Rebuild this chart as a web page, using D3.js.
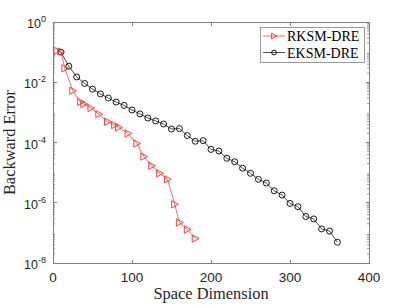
<!DOCTYPE html>
<html><head><meta charset="utf-8">
<script src="https://cdn.jsdelivr.net/npm/d3@7"></script>
<style>
html,body{margin:0;padding:0;background:#fff;}
svg{display:block;}
</style>
</head><body>
<svg id="chart" width="407" height="305"></svg>
<script>
// ---- data ----
const seriesNames = ["RKSM-DRE", "EKSM-DRE"];
const rksmX = [5, 10, 15, 25, 35, 39, 48, 58, 69, 78, 83, 95, 106, 115, 125, 135, 145, 154, 160, 170, 180];
const rksmY = [1.1e-1, 1.05e-1, 2.9e-2, 5.2e-3, 2.2e-3, 1.9e-3, 1.4e-3, 8.7e-4, 4.9e-4, 3.8e-4, 3.2e-4, 2.0e-4, 9.3e-5, 3.4e-5, 1.7e-5, 9.5e-6, 6.0e-6, 8.9e-7, 2.2e-7, 1.3e-7, 6.5e-8];
const eksmX = [10, 20, 30, 40, 50, 60, 70, 80, 90, 100, 110, 120, 130, 140, 150, 160, 170, 180, 190, 200, 210, 220, 230, 240, 250, 260, 270, 280, 290, 300, 310, 320, 330, 340, 350, 360];
const eksmY = [1.0e-1, 3.4e-2, 1.5e-2, 9.1e-3, 5.9e-3, 4.1e-3, 3.0e-3, 2.2e-3, 1.7e-3, 1.2e-3, 8.9e-4, 6.5e-4, 5.2e-4, 4.1e-4, 2.8e-4, 2.9e-4, 1.7e-4, 1.1e-4, 1.15e-4, 5.9e-5, 5.2e-5, 3.0e-5, 2.3e-5, 1.4e-5, 9.5e-6, 6.0e-6, 4.5e-6, 2.5e-6, 1.8e-6, 9.5e-7, 7.4e-7, 3.5e-7, 2.9e-7, 1.35e-7, 1.15e-7, 4.9e-8];
const xTicks = [0, 100, 200, 300, 400];
const yTickExps = [0, -2, -4, -6, -8];
const xLabel = "Space Dimension";
const yLabel = "Backward Error";

// ---- layout ----
const L = 53, R = 369, T = 22, B = 263;
const axisColor = "#808080";
const svg = d3.select("#chart");
const x = d3.scaleLinear().domain([0, 400]).range([L, R]);
const y = d3.scaleLog().domain([1e-8, 1]).range([B, T]);

// minor ticks
const minor = [];
for (let k = -8; k < 0; k++) for (let m = 2; m <= 9; m++) minor.push(m * Math.pow(10, k));

const g = svg.append("g");
// box
g.append("rect").attr("x", L).attr("y", T).attr("width", R - L).attr("height", B - T)
  .attr("fill", "none").attr("stroke", axisColor).attr("stroke-width", 1).attr("shape-rendering", "crispEdges");

// x ticks (bottom & top)
xTicks.forEach(v => {
  g.append("line").attr("x1", x(v)).attr("x2", x(v)).attr("y1", B).attr("y2", B - 3.5).attr("stroke", axisColor).attr("shape-rendering", "crispEdges");
  g.append("line").attr("x1", x(v)).attr("x2", x(v)).attr("y1", T).attr("y2", T + 3.5).attr("stroke", axisColor).attr("shape-rendering", "crispEdges");
  g.append("text").attr("x", x(v)).attr("y", B + 19).attr("text-anchor", "middle")
    .attr("font-family", "Liberation Sans, Arial, sans-serif").attr("font-size", 13.5).attr("fill", "#262626").text(v);
});
// y major ticks
yTickExps.forEach(e => {
  const v = Math.pow(10, e);
  g.append("line").attr("x1", L).attr("x2", L + 3.5).attr("y1", y(v)).attr("y2", y(v)).attr("stroke", axisColor).attr("shape-rendering", "crispEdges");
  g.append("line").attr("x1", R).attr("x2", R - 3.5).attr("y1", y(v)).attr("y2", y(v)).attr("stroke", axisColor).attr("shape-rendering", "crispEdges");
  const t = g.append("text").attr("x", 46).attr("y", y(v) + 6).attr("text-anchor", "end")
    .attr("font-family", "Liberation Sans, Arial, sans-serif").attr("font-size", 12.5).attr("fill", "#262626");
  t.append("tspan").text("10");
  t.append("tspan").attr("dy", -6).attr("font-size", 9).text(e);
});
// y minor ticks
minor.forEach(v => {
  g.append("line").attr("x1", L).attr("x2", L + 2).attr("y1", y(v)).attr("y2", y(v)).attr("stroke", axisColor).attr("stroke-width", 0.8);
  g.append("line").attr("x1", R).attr("x2", R - 2).attr("y1", y(v)).attr("y2", y(v)).attr("stroke", axisColor).attr("stroke-width", 0.8);
});

// axis labels
svg.append("text").attr("x", (L + R) / 2).attr("y", 299).attr("text-anchor", "middle")
  .attr("font-family", "Liberation Serif, Times New Roman, serif").attr("font-size", 16.4).attr("fill", "#262626").text(xLabel);
svg.append("text").attr("transform", `translate(15,${(T + B) / 2}) rotate(-90)`).attr("text-anchor", "middle")
  .attr("font-family", "Liberation Serif, Times New Roman, serif").attr("font-size", 16.4).attr("fill", "#262626").text(yLabel);

// series
const red = "#ff2a2a";
const line = d3.line().x(d => x(d[0])).y(d => y(d[1]));
const rData = rksmX.map((v, i) => [v, rksmY[i]]);
const eData = eksmX.map((v, i) => [v, eksmY[i]]);
const triPath = "M-3,-3.6L3.8,0L-3,3.6Z";

svg.append("path").datum(eData).attr("d", line).attr("fill", "none").attr("stroke", "#000").attr("stroke-width", 0.7);
svg.selectAll("circle.e").data(eData).enter().append("circle").attr("class", "e")
  .attr("cx", d => x(d[0])).attr("cy", d => y(d[1])).attr("r", 3).attr("fill", "none").attr("stroke", "#000").attr("stroke-width", 0.9);

svg.append("path").datum(rData).attr("d", line).attr("fill", "none").attr("stroke", red).attr("stroke-width", 0.7);
svg.selectAll("path.r").data(rData).enter().append("path").attr("class", "r")
  .attr("transform", d => `translate(${x(d[0])},${y(d[1])})`).attr("d", triPath)
  .attr("fill", "none").attr("stroke", red).attr("stroke-width", 0.9);

// legend
const lg = svg.append("g");
lg.append("rect").attr("x", 260.5).attr("y", 27.5).attr("width", 104).attr("height", 35)
  .attr("fill", "#fff").attr("stroke", axisColor).attr("stroke-width", 0.8);
const rows = [{name: seriesNames[0], color: red, shape: "tri", yy: 36}, {name: seriesNames[1], color: "#000", shape: "circ", yy: 52.5}];
rows.forEach(r => {
  lg.append("line").attr("x1", 263).attr("x2", 285).attr("y1", r.yy).attr("y2", r.yy).attr("stroke", r.color).attr("stroke-width", 0.7);
  if (r.shape === "tri") {
    lg.append("path").attr("transform", `translate(274,${r.yy})`).attr("d", "M-2.4,-2.9L3,0L-2.4,2.9Z").attr("fill", "none").attr("stroke", r.color).attr("stroke-width", 0.9);
  } else {
    lg.append("circle").attr("cx", 274).attr("cy", r.yy).attr("r", 2.4).attr("fill", "none").attr("stroke", r.color).attr("stroke-width", 0.9);
  }
  lg.append("text").attr("x", 287).attr("y", r.yy + 5).attr("font-family", "Liberation Serif, Times New Roman, serif")
    .attr("font-size", 14).attr("fill", "#000").text(r.name);
});
</script>
</body></html>
